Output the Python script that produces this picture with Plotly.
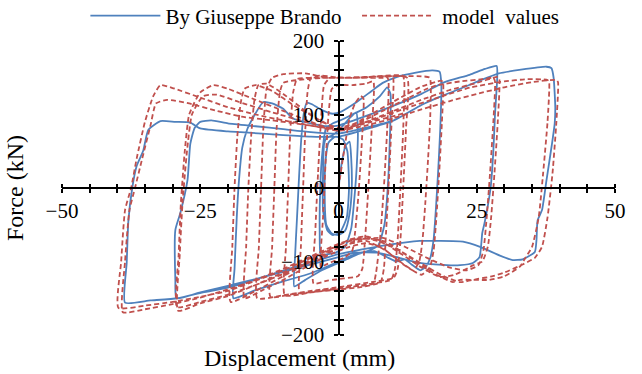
import plotly.graph_objects as go

# Axis ticks
x_tick_vals = [-50, -25, 0, 25, 50]
y_tick_vals = [-200, -100, 0, 100, 200]

# Test record (displacement mm, force kN), one list per loading stage
test_small = [(0, 0), (0.6, 35), (1.3, 58), (2.0, 63), (2.3, 40), (2.4, 0), (2.0, -35), (1.2, -58),
              (0, -64), (-1.2, -62), (-2.2, -50), (-2.5, 0), (-2.3, 40), (-1.8, 62), (-0.5, 70),
              (0.8, 66), (1.6, 50), (1.9, 0), (1.5, -40), (0.3, -60), (-1, -64), (-2, -58),
              (-2.8, -30), (-2.8, 20), (-2.6, 60), (-2.2, 68), (-1, 72), (0.5, 82), (2, 95),
              (3.2, 103), (3.5, 80), (3.3, 30), (2.8, -20), (2.3, -55), (1.2, -80), (-0.5, -88),
              (-2, -90), (-3.2, -92), (-3.4, -60), (-3.3, 0), (-2.9, 50), (-2.3, 80), (-1, 88),
              (0.3, 92)]
test_10mm = [(2.5, 100), (5.1, 110), (7.5, 125), (8.8, 137), (9.4, 128), (9.3, 70), (8.9, 0),
             (8.3, -50), (7.2, -78), (5.5, -85), (3.5, -90), (1.5, -97), (0, -102), (-3, -112),
             (-6, -125), (-8, -134), (-7.9, -100), (-7.5, -40), (-7.1, 20), (-6.7, 70), (-6.2, 105),
             (-5.7, 116), (-4.8, 114), (-3, 106), (-1, 101), (0.5, 104), (3.3, 117), (6, 132),
             (8, 143), (10.5, 151), (14, 157), (17, 160), (18.3, 158)]
test_20mm = [(18.6, 140), (18.4, 80), (18, 20), (17.6, -30), (17.2, -70), (16.6, -95), (15.8, -107),
             (14.8, -112), (13.2, -104), (12, -97), (10.5, -100), (9, -95), (6.5, -86), (4, -88),
             (2, -93), (0, -100), (-5, -116), (-10, -127), (-15, -139), (-19, -150), (-18.8, -110),
             (-18.4, -40), (-18, 10), (-17.4, 55), (-16.5, 80), (-15.5, 95), (-13.6, 117),
             (-12, 115), (-10, 108), (-8.3, 95), (-5, 88), (-2, 84), (0, 85), (5, 98), (10, 112),
             (15, 128), (19.2, 144), (23.7, 154), (26.5, 162), (28.6, 166)]
test_30mm = [(28.7, 150), (28.3, 100), (28, 50), (27.5, 0), (26.4, -48), (26, -61), (25.5, -94),
             (24.3, -102), (22, -105), (19.6, -105), (14.7, -102), (11, -95), (7, -88), (3, -88),
             (0, -94), (-5, -104), (-10, -114), (-15, -124), (-20, -133), (-25, -142), (-29.3, -150),
             (-29.5, -125), (-29.5, -57), (-28.6, -34), (-27.3, 11), (-26.8, 60), (-26, 82),
             (-25, 90), (-23, 92), (-20, 88), (-15, 84), (-10, 80), (-5, 76), (0, 74), (5, 82),
             (10, 92), (15, 113), (18.3, 124), (22, 135), (25.5, 146), (29, 156), (33, 161),
             (37.6, 165), (38.5, 163)]
test_40mm = [(38.9, 150), (39.2, 110), (39.1, 88), (38.6, 60), (37.6, 10), (36.8, -30), (36, -44),
             (35.8, -71), (35.5, -87), (33.3, -97), (31.5, -98), (29.2, -92), (25.6, -80),
             (22.5, -73), (18, -72), (14.7, -72), (8.4, -78), (4, -84), (0, -90), (-4.5, -100),
             (-9, -110), (-14, -122), (-19.6, -135), (-24.5, -142), (-29.1, -150), (-34, -153),
             (-38.6, -156), (-38.3, -102), (-38, -45), (-37.3, 0), (-36.5, 30), (-35.3, 51),
             (-34.4, 79), (-32.2, 91), (-29.5, 90), (-26.8, 89), (-25, 81), (-20, 77),
             (-17.7, 76), (-10, 72), (-5, 70), (0, 70), (5, 80), (10, 92), (12, 100)]

# Numerical model (displacement mm, force kN), one list per amplitude group
model_small = [(0, 0), (1, 50), (2, 95), (3, 115), (4, 125), (4.5, 122), (4.2, 60), (3.6, -10),
               (3, -60), (2.5, -85), (1, -95), (-1, -100), (-2.5, -105), (-3.2, -108), (-2.8, -40),
               (-2.3, 40), (-1.8, 100), (-1.2, 135), (0, 140), (2.5, 140), (5, 142), (6.3, 145),
               (6, 80), (5.4, 0), (4.8, -70), (4.3, -110), (3.5, -120), (1, -123), (-2, -126),
               (-4.5, -130), (-4.2, -60), (-3.7, 20), (-3.1, 100), (-2.6, 140), (-1.5, 150),
               (2, 150), (5, 150), (8.5, 152)]
model_10mm = [(9, 148), (8.8, 80), (8.2, 0), (7.5, -70), (6.8, -115), (6.3, -130), (4, -133),
              (0, -136), (-4, -140), (-7, -143), (-6.8, -80), (-6.4, 0), (-6, 80), (-5.6, 130),
              (-5, 150), (-3, 153), (0, 150), (4, 150), (8, 150), (9.8, 152), (9.6, 90), (9.1, 10),
              (8.6, -60), (8.2, -110), (7.6, -128), (4, -135), (0, -138), (-5, -142), (-9.7, -146),
              (-9.5, -80), (-9.1, 0), (-8.7, 80), (-8.2, 130), (-7.5, 148), (-5, 150), (0, 150),
              (5, 151), (11.6, 153)]
model_14mm = [(11.9, 145), (11.7, 80), (11.2, 0), (10.7, -70), (10.2, -110), (9.5, -125), (6, -130),
              (2, -135), (-3, -140), (-8, -144), (-12.3, -148), (-12, -80), (-11.6, 0), (-11.2, 80),
              (-10.6, 130), (-10, 143), (-6, 148), (-2, 150), (3, 150), (8, 152), (12.4, 150),
              (12.2, 80), (11.7, 0), (11.2, -70), (10.7, -110), (10, -122), (6, -128), (0, -135),
              (-5, -140), (-10, -146), (-14.7, -150), (-14.4, -80), (-14, 0), (-13.6, 80),
              (-13, 135), (-12, 150), (-10, 155), (-6, 156), (-2, 150), (3, 150), (8, 152),
              (15, 152)]
model_20mm = [(16.5, 150), (16.6, 100), (16.2, 40), (15.7, -20), (15.2, -70), (14.6, -100),
              (13.5, -112), (11, -100), (8, -82), (5, -75), (2, -80), (-2, -92), (-6, -108),
              (-10, -125), (-14, -140), (-17, -150), (-16.7, -80), (-16.3, 0), (-15.8, 70),
              (-15.2, 120), (-14.5, 140), (-13, 142), (-10, 128), (-6, 105), (-3, 90), (0, 82),
              (3, 88), (7, 105), (11, 122), (15, 138), (18.5, 146), (18.9, 144), (18.7, 90),
              (18.2, 20), (17.7, -40), (17.2, -85), (16.5, -108), (15, -118), (12, -105),
              (8.5, -85), (5, -72), (2, -76), (-2, -88), (-6, -104), (-10, -120), (-15, -140),
              (-19.5, -155), (-19.2, -80), (-18.8, 0), (-18.3, 70), (-17.7, 115), (-17, 135),
              (-15, 140), (-12, 132), (-8, 112), (-4, 95), (0, 80), (4, 90), (8, 105), (12, 120),
              (16, 135), (18, 140)]
model_30mm = [(22, 145), (26, 148), (28, 150), (28.3, 145), (28, 90), (27.4, 20), (26.8, -40),
              (26.2, -85), (25.3, -105), (23.2, -112), (20, -108), (16, -95), (12, -80), (8, -68),
              (4, -70), (0, -82), (-5, -100), (-10, -117), (-15, -132), (-20, -145), (-25, -155),
              (-29.2, -162), (-28.9, -90), (-28.5, -20), (-27.8, 50), (-27, 100), (-25, 130),
              (-22.6, 140), (-20, 135), (-15, 120), (-10, 105), (-5, 90), (0, 78), (5, 90),
              (10, 105), (15, 120), (20, 133), (25, 143), (28.8, 151), (29.1, 147), (28.8, 90),
              (28.2, 20), (27.6, -40), (27, -80), (26, -100), (24.4, -105), (21, -118),
              (18.3, -121), (15, -108), (11, -88), (7, -70), (3, -70), (0, -78), (-5, -98),
              (-10, -115), (-15, -132), (-20, -147), (-25, -157), (-29, -167), (-28.7, -90),
              (-28.2, -20), (-27.4, 50), (-26.5, 100), (-24.5, 125), (-22, 127), (-18, 117),
              (-12, 103), (-6, 90), (0, 80), (6, 92), (12, 108), (18, 123), (24, 137), (30, 145),
              (34, 148)]
model_40mm = [(37.8, 147), (38.1, 143), (37.8, 90), (37, 20), (36.2, -40), (35, -80), (33.8, -95),
              (32.8, -107), (30, -120), (27.3, -125), (22, -125), (20.7, -128), (17, -115),
              (13, -95), (9, -75), (5, -66), (2, -70), (0, -78), (-5, -95), (-10, -112),
              (-15, -126), (-20, -140), (-25, -148), (-30, -155), (-35, -160), (-39.8, -163),
              (-39.3, -100), (-38.6, -30), (-37.5, 0), (-36.5, 40), (-35, 90), (-33.5, 125),
              (-32.2, 140), (-30, 136), (-25, 123), (-20, 110), (-15, 100), (-10, 92), (-5, 85),
              (0, 78), (5, 85), (10, 95), (15, 107), (20, 118), (25, 128), (30, 137), (35, 144),
              (39.4, 147), (39.7, 144), (39.4, 90), (38.7, 20), (37.8, -40), (36.8, -80),
              (35.5, -95), (33.3, -104), (30, -115), (27.9, -120), (25, -124), (22, -128),
              (19, -120), (15, -103), (11, -85), (7, -72), (4, -68), (0, -76), (-5, -93),
              (-10, -110), (-15, -125), (-20, -138), (-25, -149), (-30, -158), (-35, -165),
              (-39, -169), (-38.6, -100), (-37.8, -30), (-36.8, 0), (-35.5, 40), (-34, 85),
              (-33, 115), (-31, 120), (-27, 115), (-22, 105), (-17.5, 97), (-12, 92), (-6, 86),
              (0, 80), (6, 90), (12, 102)]

test_stages = [test_small, test_10mm, test_20mm, test_30mm, test_40mm]
model_stages = [model_small, model_10mm, model_14mm, model_20mm, model_30mm, model_40mm]


def path(stages):
    xs, ys = [], []
    for stage in stages:
        for d, f in stage:
            xs.append(d)
            ys.append(f)
    return xs, ys


tx, ty = path(test_stages)
mx, my = path(model_stages)

FONT = "Liberation Serif"
BLUE = "#4F81BD"
RED = "#C0504D"

fig = go.Figure()
fig.add_trace(go.Scatter(x=tx, y=ty, mode="lines", name="By Giuseppe Brando\u00a0\u00a0",
                         line=dict(color=BLUE, width=1.8, shape="spline", smoothing=0.5)))
fig.add_trace(go.Scatter(x=mx, y=my, mode="lines", name="\u00a0model\u00a0 values",
                         line=dict(color=RED, width=1.8, dash="5px,3px", shape="spline", smoothing=0.5)))
# carrier for the opposite-side tick marks
fig.add_trace(go.Scatter(x=[None], y=[None], xaxis="x2", yaxis="y2", showlegend=False,
                         hoverinfo="skip"))

axis_common = dict(showgrid=False, zeroline=False, color="black",
                   tickfont=dict(family=FONT, size=21, color="black"))

fig.update_layout(
    width=642, height=374,
    margin=dict(l=62, r=27, t=41, b=39, autoexpand=False),
    paper_bgcolor="white", plot_bgcolor="white",
    font=dict(family=FONT, size=21, color="black"),
    showlegend=True,
    legend=dict(orientation="h", xref="container", yref="paper", x=0.133, y=1.155,
                xanchor="left", yanchor="top", itemwidth=70,
                font=dict(family=FONT, size=21),
                bgcolor="rgba(0,0,0,0)", tracegroupgap=0),
    xaxis=dict(range=[-50, 50], tickvals=x_tick_vals, ticks="outside", ticklen=4, tickwidth=2,
               tickcolor="black", showline=True, linewidth=2, linecolor="black",
               anchor="free", position=0.5,
               minor=dict(dtick=5, tick0=0, ticks="outside", ticklen=4, tickwidth=2, tickcolor="black"),
               **axis_common),
    yaxis=dict(range=[-200, 200], tickvals=y_tick_vals, ticks="outside", ticklen=4, tickwidth=2,
               tickcolor="black", showline=True, linewidth=2, linecolor="black",
               anchor="free", position=0.5, ticklabelstandoff=5,
               minor=dict(dtick=20, tick0=0, ticks="outside", ticklen=4, tickwidth=2, tickcolor="black"),
               **axis_common),
    xaxis2=dict(range=[-50, 50], overlaying="x", side="top", anchor="free", position=0.5,
                dtick=5, tick0=0, ticks="outside", ticklen=4, tickwidth=2, tickcolor="black",
                showticklabels=False, showgrid=False, zeroline=False, showline=False),
    yaxis2=dict(range=[-200, 200], overlaying="y", side="right", anchor="free", position=0.5,
                dtick=20, tick0=0, ticks="outside", ticklen=4, tickwidth=2, tickcolor="black",
                showticklabels=False, showgrid=False, zeroline=False, showline=False),
    annotations=[
        dict(text="Force (kN)", textangle=-90, xref="paper", yref="paper", x=-0.085, y=0.5,
             showarrow=False, font=dict(family=FONT, size=24, color="black"),
             xanchor="center", yanchor="middle"),
        dict(text="Displacement (mm)", xref="paper", yref="paper", x=0.43, y=-0.079,
             showarrow=False, font=dict(family=FONT, size=24, color="black"),
             xanchor="center", yanchor="middle"),
    ],
)

fig.write_html("out.html")
